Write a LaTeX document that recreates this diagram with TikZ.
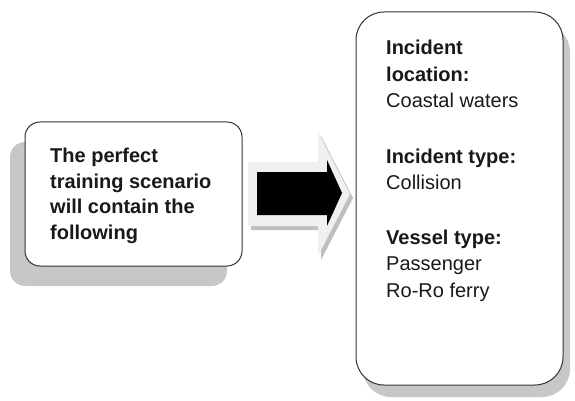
\documentclass[tikz,border=0pt]{standalone}
\usepackage{fontspec}
\setmainfont{Liberation Sans}
\usetikzlibrary{shadows}
\begin{document}
\begin{tikzpicture}[x=1pt,y=-1pt,
  box/.style={draw=black!80, line width=1pt, fill=white, inner sep=0pt},
  shadowbox/.style={fill=black!22, draw=none, inner sep=0pt},
  txt/.style={inner sep=0pt, anchor=north west, align=left, text=black!90}
]
\useasboundingbox (0,0) rectangle (575,401);
% left box
\node[shadowbox, rounded corners=15pt, minimum width=217pt, minimum height=144pt] (lsh) at (118.5,214) {};
\node[box, rounded corners=15pt, minimum width=217pt, minimum height=144pt] (lbox) at (133.5,194) {};
\node[txt, font=\bfseries\fontsize{20}{25.5}\selectfont] (ltxt) at (50,148)
  {The perfect\\training scenario\\will contain the\\following};
% right box
\node[shadowbox, rounded corners=28pt, minimum width=207pt, minimum height=373pt] (rsh) at (466.5,210.5) {};
\node[box, rounded corners=28pt, minimum width=207pt, minimum height=373pt] (rbox) at (459.5,198.5) {};
\node[txt, font=\fontsize{20}{26.5}\selectfont] (rtxt) at (386,40)
  {\textbf{Incident}\\\textbf{location:}\\Coastal waters\\[29pt]\textbf{Incident type:}\\Collision\\[28pt]\textbf{Vessel type:}\\Passenger\\Ro-Ro ferry};
% arrow
\fill[black!25] (251,166) -- (321,166) -- (321,136) -- (353,198) -- (321,260) -- (321,230) -- (251,230) -- cycle;
\fill[black!6] (248,162) -- (318,162) -- (318,132) -- (350,194) -- (318,256) -- (318,226) -- (248,226) -- cycle;
\fill[black] (257,172) -- (327,172) -- (327,160) -- (342,193) -- (327,226) -- (327,215) -- (257,215) -- cycle;
\end{tikzpicture}
\end{document}
